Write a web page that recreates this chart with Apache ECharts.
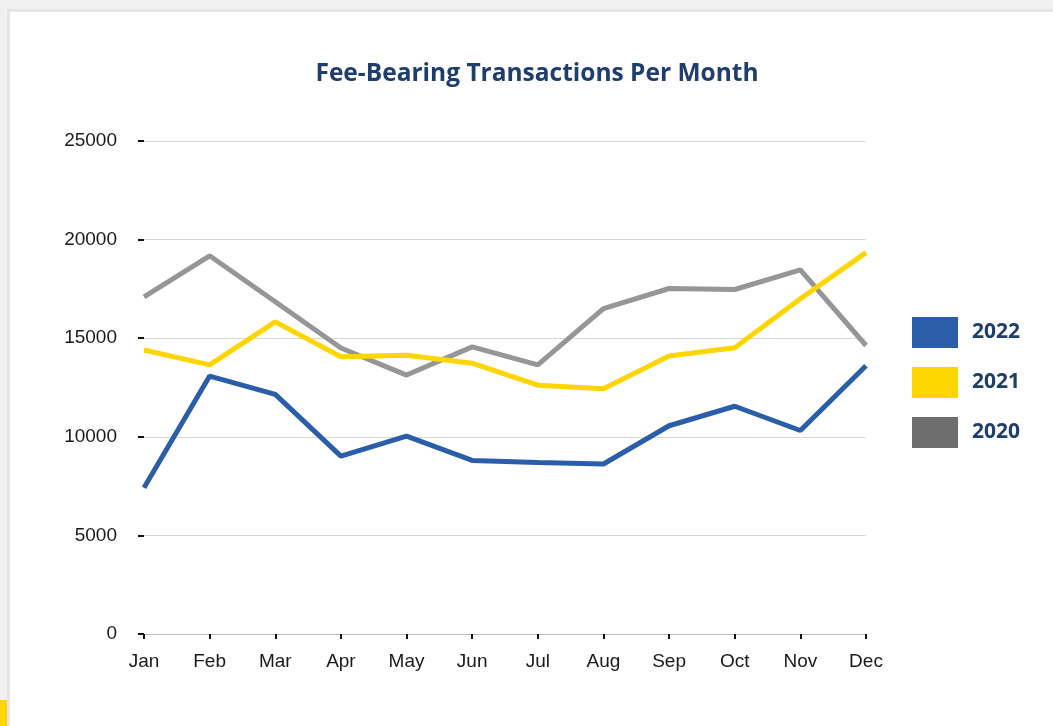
<!DOCTYPE html>
<html>
<head>
<meta charset="utf-8">
<script src="https://cdn.jsdelivr.net/npm/echarts@6/dist/echarts.min.js"></script>
<style>
  html, body { margin: 0; padding: 0; width: 1053px; height: 726px; overflow: hidden; background: #f1f1f1; }
  #card { position: absolute; left: 7px; top: 9px; width: 1060px; height: 740px; background: #fff; border: 3px solid #e6e6e6; box-sizing: border-box; }
  #bar { position: absolute; left: 0; top: 700px; width: 7px; height: 26px; background: #ffd500; }
  #chart { position: absolute; left: 0; top: 0; width: 1053px; height: 726px; }
</style>
</head>
<body>
<div id="card"></div>
<div id="bar"></div>
<div id="chart"></div>
<script>
const titleText = 'Fee-Bearing Transactions Per Month';
const months = ['Jan','Feb','Mar','Apr','May','Jun','Jul','Aug','Sep','Oct','Nov','Dec'];
const s2022 = [7420, 13080, 12150, 9020, 10030, 8800, 8700, 8620, 10560, 11550, 10320, 13600];
const s2021 = [14400, 13650, 15830, 14060, 14140, 13730, 12620, 12440, 14100, 14520, 17000, 19340];
const s2020 = [17100, 19180, 16850, 14500, 13130, 14560, 13650, 16500, 17520, 17470, 18460, 14630];

const colBlue = '#2b5ea8', colYellow = '#ffd500', colGray = '#969696', colGrayLegend = '#6e6e6e';
const navy = '#1f3d6d';

const chart = echarts.init(document.getElementById('chart'), null, { renderer: 'canvas' });
chart.setOption({
  backgroundColor: 'transparent',
  animation: false,
  title: {
    text: titleText,
    left: 537, top: 62, padding: 0,
    textAlign: 'center',
    textStyle: { fontFamily: 'Open Sans', fontWeight: 'bold', fontSize: 24.5, color: navy }
  },
  grid: { left: 144, right: 187, top: 141, bottom: 92, containLabel: false },
  legend: {
    orient: 'vertical', left: 912, top: 317, padding: 0,
    icon: 'rect', itemWidth: 46, itemHeight: 31, itemGap: 19,
    data: [
      { name: '2022', itemStyle: { color: colBlue } },
      { name: '2021', itemStyle: { color: colYellow } },
      { name: '2020', itemStyle: { color: colGrayLegend } }
    ],
    textStyle: { fontFamily: 'Open Sans', fontWeight: 'bold', fontSize: 21, color: navy, padding: [2, 0, 0, 9] }
  },
  xAxis: {
    type: 'category', data: months, boundaryGap: false,
    axisLine: { show: true, lineStyle: { color: '#bdbdbd', width: 1 } },
    axisTick: { show: true, alignWithLabel: true, length: 5, lineStyle: { color: '#111', width: 2 } },
    axisLabel: { margin: 18, fontFamily: 'Liberation Sans', fontSize: 19, color: '#1a1a1a' },
    splitLine: { show: false }
  },
  yAxis: {
    type: 'value', min: 0, max: 25000, interval: 5000,
    axisLine: { show: false },
    axisTick: { show: true, length: 6, lineStyle: { color: '#111', width: 2 } },
    axisLabel: { margin: 27, fontFamily: 'Liberation Sans', fontSize: 19, color: '#1a1a1a',
      formatter: function (v) { return String(v); } },
    splitLine: { show: true, lineStyle: { color: '#d9d9d9', width: 1 } }
  },
  series: [
    { name: '2020', type: 'line', data: s2020, showSymbol: false, symbol: 'none',
      lineStyle: { color: colGray, width: 5 }, itemStyle: { color: colGrayLegend } },
    { name: '2021', type: 'line', data: s2021, showSymbol: false, symbol: 'none',
      lineStyle: { color: colYellow, width: 5 }, itemStyle: { color: colYellow } },
    { name: '2022', type: 'line', data: s2022, showSymbol: false, symbol: 'none',
      lineStyle: { color: colBlue, width: 5 }, itemStyle: { color: colBlue } }
  ]
});
</script>
</body>
</html>
